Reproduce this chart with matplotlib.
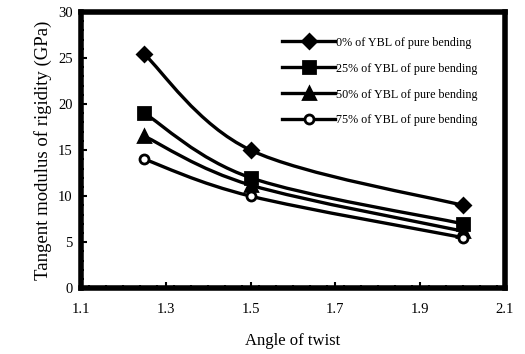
import matplotlib
matplotlib.use("Agg")
import matplotlib.pyplot as plt
from matplotlib.path import Path
from matplotlib.patches import PathPatch
from matplotlib.lines import Line2D
from matplotlib.ticker import MultipleLocator, FixedLocator
import numpy as np

plt.rcParams['font.family'] = ['Liberation Serif', 'DejaVu Serif']

angle = [1.25, 1.5, 2.0]
g_0 = [25.4, 15.0, 9.0]
g_25 = [19.0, 12.0, 7.0]
g_50 = [16.5, 11.2, 6.2]
g_75 = [14.0, 10.0, 5.5]
labels = ["0% of YBL of pure bending", "25% of YBL of pure bending",
          "50% of YBL of pure bending", "75% of YBL of pure bending"]
xticks = [1.1, 1.3, 1.5, 1.7, 1.9, 2.1]


def smooth_path(x, y):
    """Excel-like smoothed line as cubic bezier segments through the points"""
    x = np.asarray(x, float)
    y = np.asarray(y, float)
    n = len(x)
    verts = [(x[0], y[0])]
    codes = [Path.MOVETO]
    for i in range(n - 1):
        p0 = np.array([x[max(i - 1, 0)], y[max(i - 1, 0)]])
        p1 = np.array([x[i], y[i]])
        p2 = np.array([x[i + 1], y[i + 1]])
        p3 = np.array([x[min(i + 2, n - 1)], y[min(i + 2, n - 1)]])
        c1 = p1 + (p2 - p0) / 6.0
        c2 = p2 - (p3 - p1) / 6.0
        verts += [tuple(c1), tuple(c2), tuple(p2)]
        codes += [Path.CURVE4] * 3
    return Path(verts, codes)


fig = plt.figure(figsize=(5.25, 3.54), dpi=100)
ax = fig.add_axes([0.154, 0.186, 0.808, 0.780])

series = [(g_0, 'D', 'k', 7.5), (g_25, 's', 'k', 8.5),
          (g_50, '^', 'k', 9), (g_75, 'o', 'white', 6.5)]
handles = []
for ys, m, fc, ms in series:
    ax.add_patch(PathPatch(smooth_path(angle, ys), fill=False, lw=2.4, ec='k'))
    ax.plot(angle, ys, ls='none', marker=m, ms=ms, mfc=fc, mec='k', mew=2)
    handles.append(Line2D([], [], color='k', lw=2.4, marker=m, ms=ms,
                          mfc=fc, mec='k', mew=2))

ax.set_xlim(1.1, 2.1)
ax.set_ylim(0, 30)
ax.xaxis.set_major_locator(FixedLocator(xticks))
ax.xaxis.set_minor_locator(MultipleLocator(0.04))
ax.yaxis.set_major_locator(MultipleLocator(5))
ax.yaxis.set_minor_locator(MultipleLocator(1))
ax.tick_params(which='both', direction='in', width=1.5, labelsize=10.5)
ax.tick_params(which='major', length=4, pad=6)
ax.tick_params(which='minor', length=2.5)
ax.tick_params(axis='x', pad=11)
for s in ax.spines.values():
    s.set_linewidth(4)

ax.set_xlabel("Angle of twist", fontsize=12, labelpad=12)
ax.set_ylabel("Tangent modulus of rigidity (GPa)", fontsize=13.5, labelpad=4)

ax.legend(handles, labels, loc='upper right', frameon=False, fontsize=8.7,
          handlelength=4.4, handletextpad=0.05, labelspacing=1.15,
          bbox_to_anchor=(0.96, 0.95))

fig.savefig("out.png", dpi=100)
